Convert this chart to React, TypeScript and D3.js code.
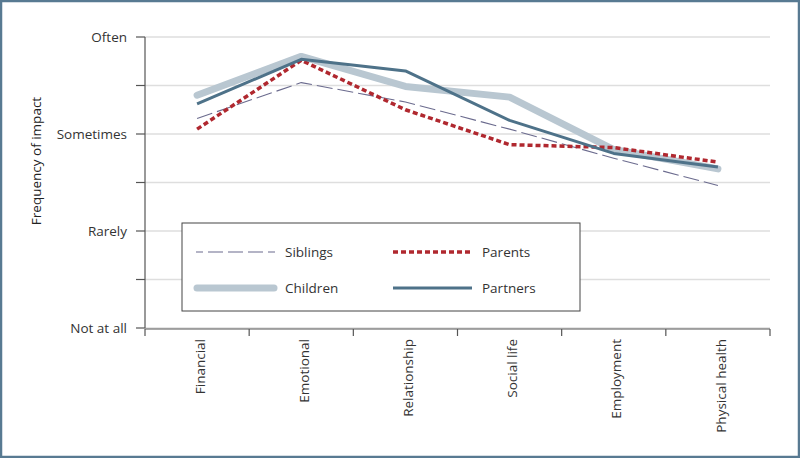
import React, { useEffect } from "react";
import * as d3 from "d3";

const categories = ["Financial", "Emotional", "Relationship", "Social life", "Employment", "Physical health"];
const yTickLabels = ["Not at all", "Rarely", "Sometimes", "Often"];
const siblings = [2.16, 2.53, 2.33, 2.05, 1.75, 1.47];
const parents = [2.05, 2.76, 2.25, 1.89, 1.86, 1.71];
const children = [2.4, 2.8, 2.49, 2.38, 1.84, 1.64];
const partners = [2.31, 2.77, 2.65, 2.14, 1.8, 1.66];

const W = 800;
const H = 458;
const FONT = "'Open Sans', 'Noto Sans', sans-serif";

export default function App() {
  useEffect(() => {
    document.body.style.margin = "0";
  }, []);

  const x = d3.scaleBand<string>().domain(categories).range([145, 770]);
  const y = d3.scaleLinear().domain([0, 3]).range([328, 37]);
  const cx = (c: string) => (x(c) ?? 0) + x.bandwidth() / 2;
  const line = d3
    .line<number>()
    .x((_, i) => cx(categories[i]))
    .y((d) => y(d));

  const gridVals = d3.range(0, 3.01, 0.5);
  const boundaries = categories.map((c) => x(c) ?? 0).concat([770]);

  const series = [
    { name: "Children", data: children, color: "#b9c7d1", width: 7, dash: undefined, cap: "round" },
    { name: "Siblings", data: siblings, color: "#6b6b8e", width: 1.1, dash: "16,5", cap: "butt" },
    { name: "Parents", data: parents, color: "#b0282f", width: 3.5, dash: "5,3", cap: "butt" },
    { name: "Partners", data: partners, color: "#4e7289", width: 3, dash: undefined, cap: "butt" },
  ];

  const legendItems = [
    { s: series[1], lx: 196, ly: 252 },
    { s: series[2], lx: 393, ly: 252 },
    { s: series[0], lx: 196, ly: 288 },
    { s: series[3], lx: 393, ly: 288 },
  ];

  return (
    <svg width={W} height={H} style={{ position: "absolute", left: 0, top: 0, display: "block" }} fontFamily={FONT}>
      <rect x={0} y={0} width={W} height={H} fill="#ffffff" />
      <rect x={1} y={1} width={W - 2} height={H - 2} fill="none" stroke="#587a92" strokeWidth={2.5} />

      {/* gridlines */}
      {gridVals.map((v) => (
        <line key={"g" + v} x1={145} x2={770} y1={y(v)} y2={y(v)} stroke="#dedede" strokeWidth={1.5} />
      ))}

      {/* y axis */}
      <line x1={145} x2={145} y1={y(3)} y2={y(0)} stroke="#555" strokeWidth={1.2} />
      {gridVals.map((v) => (
        <line key={"yt" + v} x1={136} x2={145} y1={y(v)} y2={y(v)} stroke="#555" strokeWidth={1.2} />
      ))}
      {yTickLabels.map((t, i) => (
        <text key={t} x={127} y={y(i)} dy="0.35em" textAnchor="end" fontSize={13.5} fill="#333">
          {t}
        </text>
      ))}
      <text
        transform={`translate(41,161) rotate(-90)`}
        textAnchor="middle"
        fontSize={13.5}
        fill="#222"
      >
        Frequency of impact
      </text>

      {/* x axis */}
      <line x1={145} x2={770} y1={329} y2={329} stroke="#555" strokeWidth={1.2} />
      {boundaries.map((b, i) => (
        <line key={"xt" + i} x1={b} x2={b} y1={329} y2={336} stroke="#555" strokeWidth={1.2} />
      ))}
      {categories.map((c) => (
        <text
          key={c}
          transform={`translate(${cx(c) + 3},339) rotate(-90)`}
          textAnchor="end"
          dy="0.35em"
          fontSize={13.5}
          fill="#333"
        >
          {c}
        </text>
      ))}

      {/* series */}
      {series.map((s) => (
        <path
          key={s.name}
          d={line(s.data) ?? ""}
          fill="none"
          stroke={s.color}
          strokeWidth={s.width}
          strokeDasharray={s.dash}
          strokeLinecap={s.cap as any}
          strokeLinejoin="round"
        />
      ))}

      {/* legend */}
      <rect x={182} y={223} width={398} height={88} fill="#ffffff" stroke="#444" strokeWidth={1} />
      {legendItems.map(({ s, lx, ly }) => (
        <g key={"l" + s.name}>
          <line
            x1={lx + (s.cap === "round" ? 1 : 0)}
            x2={lx + 79 - (s.cap === "round" ? 1 : 0)}
            y1={ly}
            y2={ly}
            stroke={s.color}
            strokeWidth={s.width}
            strokeDasharray={s.dash === "16,5" ? "15,5" : s.dash}
            strokeDashoffset={s.dash === "16,5" ? 8 : 0}
            strokeLinecap={s.cap as any}
          />
          <text x={lx + 89} y={ly} dy="0.35em" fontSize={13.5} fill="#333">
            {s.name}
          </text>
        </g>
      ))}
    </svg>
  );
}
